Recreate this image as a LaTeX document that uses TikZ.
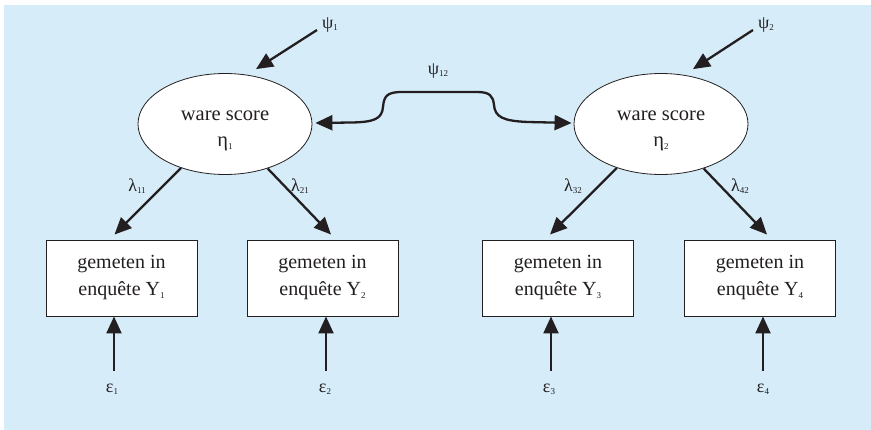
\documentclass[tikz,border=0pt]{standalone}
\usepackage{fontspec}
\setmainfont{Liberation Serif}
\usetikzlibrary{arrows.meta,shapes.geometric}
\definecolor{panelblue}{RGB}{214,236,249}
\definecolor{ink}{RGB}{35,31,32}
% small lowered index for Greek symbols and variable names
\newcommand\idx[1]{\raisebox{-0.25ex}{\fontsize{9}{9}\selectfont #1}}

\begin{document}
\begin{tikzpicture}[x=1pt,y=-1pt,
  latent/.style={ellipse, draw=ink, line width=0.8pt, fill=white,
    minimum width=174pt, minimum height=101pt, inner sep=0pt},
  obs/.style={rectangle, draw=ink, line width=0.9pt, fill=white,
    minimum width=151pt, minimum height=76pt, inner sep=0pt, align=center,
    text=ink, font=\fontsize{20}{27}\selectfont},
  etext/.style={text=ink, inner sep=0pt, font=\fontsize{20.5}{20}\selectfont},
  lbl/.style={text=ink, inner sep=0pt, font=\fontsize{18}{18}\selectfont},
  arrowln/.style={draw=ink, line width=2.3pt,
    -{Triangle[length=17pt,width=15pt]}},
  dblarrow/.style={draw=ink, line width=2.3pt,
    {Triangle[length=17pt,width=15pt]}-{Triangle[length=17pt,width=15pt]}}
]
\useasboundingbox (0,0) rectangle (871,430);
\fill[white] (0,0) rectangle (871,430);
\fill[panelblue] (4,5) rectangle (871,430);

% latent variables
\node[latent] (e1) at (225,124) {};
\node[latent] (e2) at (661,124) {};
\node[etext, anchor=base] (e1a) at (225,121) {ware score};
\node[etext, anchor=base] (e1b) at (225,147) {η\idx{1}};
\node[etext, anchor=base] (e2a) at (661,121) {ware score};
\node[etext, anchor=base] (e2b) at (661,147) {η\idx{2}};

% observed indicators
\node[obs] (b1) at (121.5,278) {gemeten in\\enquête Y\idx{1}};
\node[obs] (b2) at (322.5,278) {gemeten in\\enquête Y\idx{2}};
\node[obs] (b3) at (558,278) {gemeten in\\enquête Y\idx{3}};
\node[obs] (b4) at (760,278) {gemeten in\\enquête Y\idx{4}};

% disturbances of the latent variables
\node[lbl] (psi1) at (330,25) {ψ\idx{1}};
\node[lbl] (psi2) at (766,25) {ψ\idx{2}};
\coordinate (p1) at (317,30);
\coordinate (p2) at (753,30);
\draw[arrowln] (p1) -- ([xshift=31pt,yshift=4pt]e1.north);
\draw[arrowln] (p2) -- ([xshift=32pt,yshift=4pt]e2.north);

% covariance between the latent variables
\node[lbl] (psi12) at (438,71) {ψ\idx{12}};
\draw[dblarrow] ([xshift=3pt,yshift=1pt]e1.east) -- (352,122.5)
  .. controls (374,122) and (382,119) .. (383,107)
  .. controls (384,96) and (387,92) .. (402,92)
  -- (477,92)
  .. controls (490,92) and (493,96) .. (494,105)
  .. controls (495,117) and (503,121) .. (528,122)
  -- ([xshift=-2pt,yshift=1pt]e2.west);

% factor loadings
\draw[arrowln] (e1) -- ([xshift=-7pt,yshift=5pt]b1.north);
\draw[arrowln] (e1) -- ([xshift=8.5pt,yshift=5pt]b2.north);
\draw[arrowln] (e2) -- ([xshift=-8pt,yshift=5pt]b3.north);
\draw[arrowln] (e2) -- ([xshift=7pt,yshift=5pt]b4.north);
\node[lbl] (l11) at (137,186) {λ\idx{11}};
\node[lbl] (l21) at (300,186) {λ\idx{21}};
\node[lbl] (l32) at (573,186) {λ\idx{32}};
\node[lbl] (l42) at (740,186) {λ\idx{42}};

% measurement errors
\node[lbl] (eps1) at (112,389) {ε\idx{1}};
\node[lbl] (eps2) at (325,389) {ε\idx{2}};
\node[lbl] (eps3) at (549,389) {ε\idx{3}};
\node[lbl] (eps4) at (763,389) {ε\idx{4}};
\coordinate (s1) at (114,371);
\coordinate (s2) at (326,371);
\coordinate (s3) at (551,371);
\coordinate (s4) at (763,371);
\draw[arrowln] (s1) -- (s1 |- b1.south);
\draw[arrowln] (s2) -- (s2 |- b2.south);
\draw[arrowln] (s3) -- (s3 |- b3.south);
\draw[arrowln] (s4) -- (s4 |- b4.south);
\end{tikzpicture}
\end{document}
